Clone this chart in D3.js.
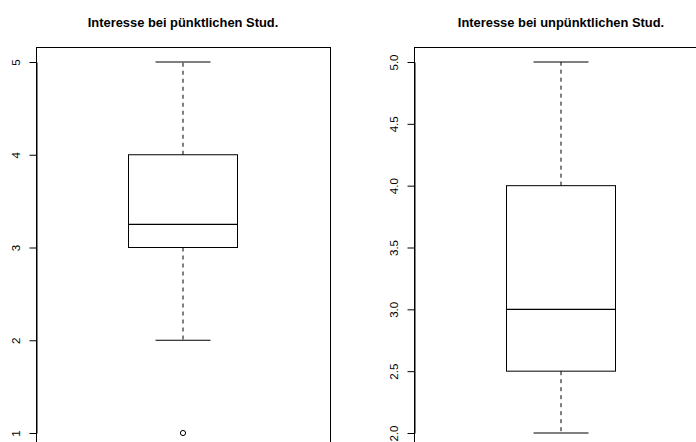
<!DOCTYPE html>
<html>
<head>
<meta charset="utf-8">
<script src="https://cdn.jsdelivr.net/npm/d3@7"></script>
<style>
  html, body { margin: 0; padding: 0; background: #fff; }
  svg { display: block; }
  text { font-family: "Liberation Sans", Arial, Helvetica, sans-serif; }
</style>
</head>
<body>
<svg id="chart" width="696" height="442"></svg>
<script>
// Panel titles
const titles = ["Interesse bei pünktlichen Stud.", "Interesse bei unpünktlichen Stud."];

// Five-number summaries (lower whisker, Q1, median, Q3, upper whisker)
const summaryPuenktlich = [2, 3, 3.25, 4, 5];
const summaryUnpuenktlich = [2, 2.5, 3, 4, 5];

// Points beyond the whiskers
const outliersPuenktlich = [1];
const outliersUnpuenktlich = [];

// Axis ranges and tick values
const domainPuenktlich = [1, 5];
const domainUnpuenktlich = [2, 5];
const ticksPuenktlich = [1, 2, 3, 4, 5];
const ticksUnpuenktlich = [2.0, 2.5, 3.0, 3.5, 4.0, 4.5, 5.0];
const tickFormatPuenktlich = d3.format("d");
const tickFormatUnpuenktlich = d3.format(".1f");

const svg = d3.select("#chart");

const panels = [
  { title: titles[0], stats: summaryPuenktlich, outliers: outliersPuenktlich,
    domain: domainPuenktlich, ticks: ticksPuenktlich, fmt: tickFormatPuenktlich,
    left: 36, right: 330 },
  { title: titles[1], stats: summaryUnpuenktlich, outliers: outliersUnpuenktlich,
    domain: domainUnpuenktlich, ticks: ticksUnpuenktlich, fmt: tickFormatUnpuenktlich,
    left: 414, right: 708 }
];

const plotTop = 47;      // top edge of the plot frame
const rangeTop = 62;     // pixel of the domain max
const rangeBottom = 433; // pixel of the domain min
const plotBottom = 448;  // frame bottom (below the visible area)

panels.forEach(p => {
  const g = svg.append("g");
  const cx = (p.left + p.right) / 2;

  const y = d3.scaleLinear().domain(p.domain).range([rangeBottom, rangeTop]);
  const x = d3.scaleLinear().domain([0, 1]).range([p.left, p.right]);

  // Frame around the plot region
  g.append("rect")
    .attr("x", p.left + 0.5).attr("y", plotTop + 0.5)
    .attr("width", p.right - p.left).attr("height", plotBottom - plotTop)
    .attr("fill", "none").attr("stroke", "#000").attr("stroke-width", 1);

  // Title
  g.append("text")
    .attr("x", x(0.5)).attr("y", 27)
    .attr("text-anchor", "middle")
    .attr("font-weight", "bold")
    .attr("font-size", "12.9px")
    .text(p.title);

  // Y axis with rotated labels
  const axis = d3.axisLeft(y)
    .tickValues(p.ticks)
    .tickFormat(p.fmt)
    .tickSize(7)
    .tickSizeOuter(0)
    .tickPadding(8);
  const ag = g.append("g")
    .attr("transform", `translate(${p.left + 0.5},0)`)
    .call(axis);
  ag.select(".domain").attr("stroke", "#000");
  ag.selectAll(".tick line").attr("stroke", "#000");
  ag.selectAll(".tick text")
    .attr("font-size", "11.5px")
    .attr("fill", "#000")
    .attr("text-anchor", "middle")
    .attr("dy", null)
    .attr("x", null)
    .attr("transform", "translate(-21,0) rotate(-90)")
    .attr("dominant-baseline", "central");

  const [lo, q1, med, q3, hi] = p.stats;
  const boxHalf = 54.5;
  const capHalf = 27.5;

  // Whiskers (dashed)
  g.append("line")
    .attr("x1", cx).attr("x2", cx).attr("y1", y(q3)).attr("y2", y(hi))
    .attr("stroke", "#000").attr("stroke-dasharray", "4,4");
  g.append("line")
    .attr("x1", cx).attr("x2", cx).attr("y1", y(q1)).attr("y2", y(lo))
    .attr("stroke", "#000").attr("stroke-dasharray", "4,4");

  // Whisker caps
  [lo, hi].forEach(v => {
    g.append("line")
      .attr("x1", cx - capHalf).attr("x2", cx + capHalf)
      .attr("y1", y(v)).attr("y2", y(v))
      .attr("stroke", "#000");
  });

  // Box
  g.append("rect")
    .attr("x", cx - boxHalf).attr("y", y(q3))
    .attr("width", boxHalf * 2).attr("height", y(q1) - y(q3))
    .attr("fill", "none").attr("stroke", "#000");

  // Median
  g.append("line")
    .attr("x1", cx - boxHalf).attr("x2", cx + boxHalf)
    .attr("y1", y(med)).attr("y2", y(med))
    .attr("stroke", "#000").attr("stroke-width", 1.2);

  // Outliers
  g.selectAll("circle.out").data(p.outliers).enter()
    .append("circle")
    .attr("class", "out")
    .attr("cx", cx).attr("cy", d => y(d)).attr("r", 2.6)
    .attr("fill", "none").attr("stroke", "#000");
});
</script>
</body>
</html>
